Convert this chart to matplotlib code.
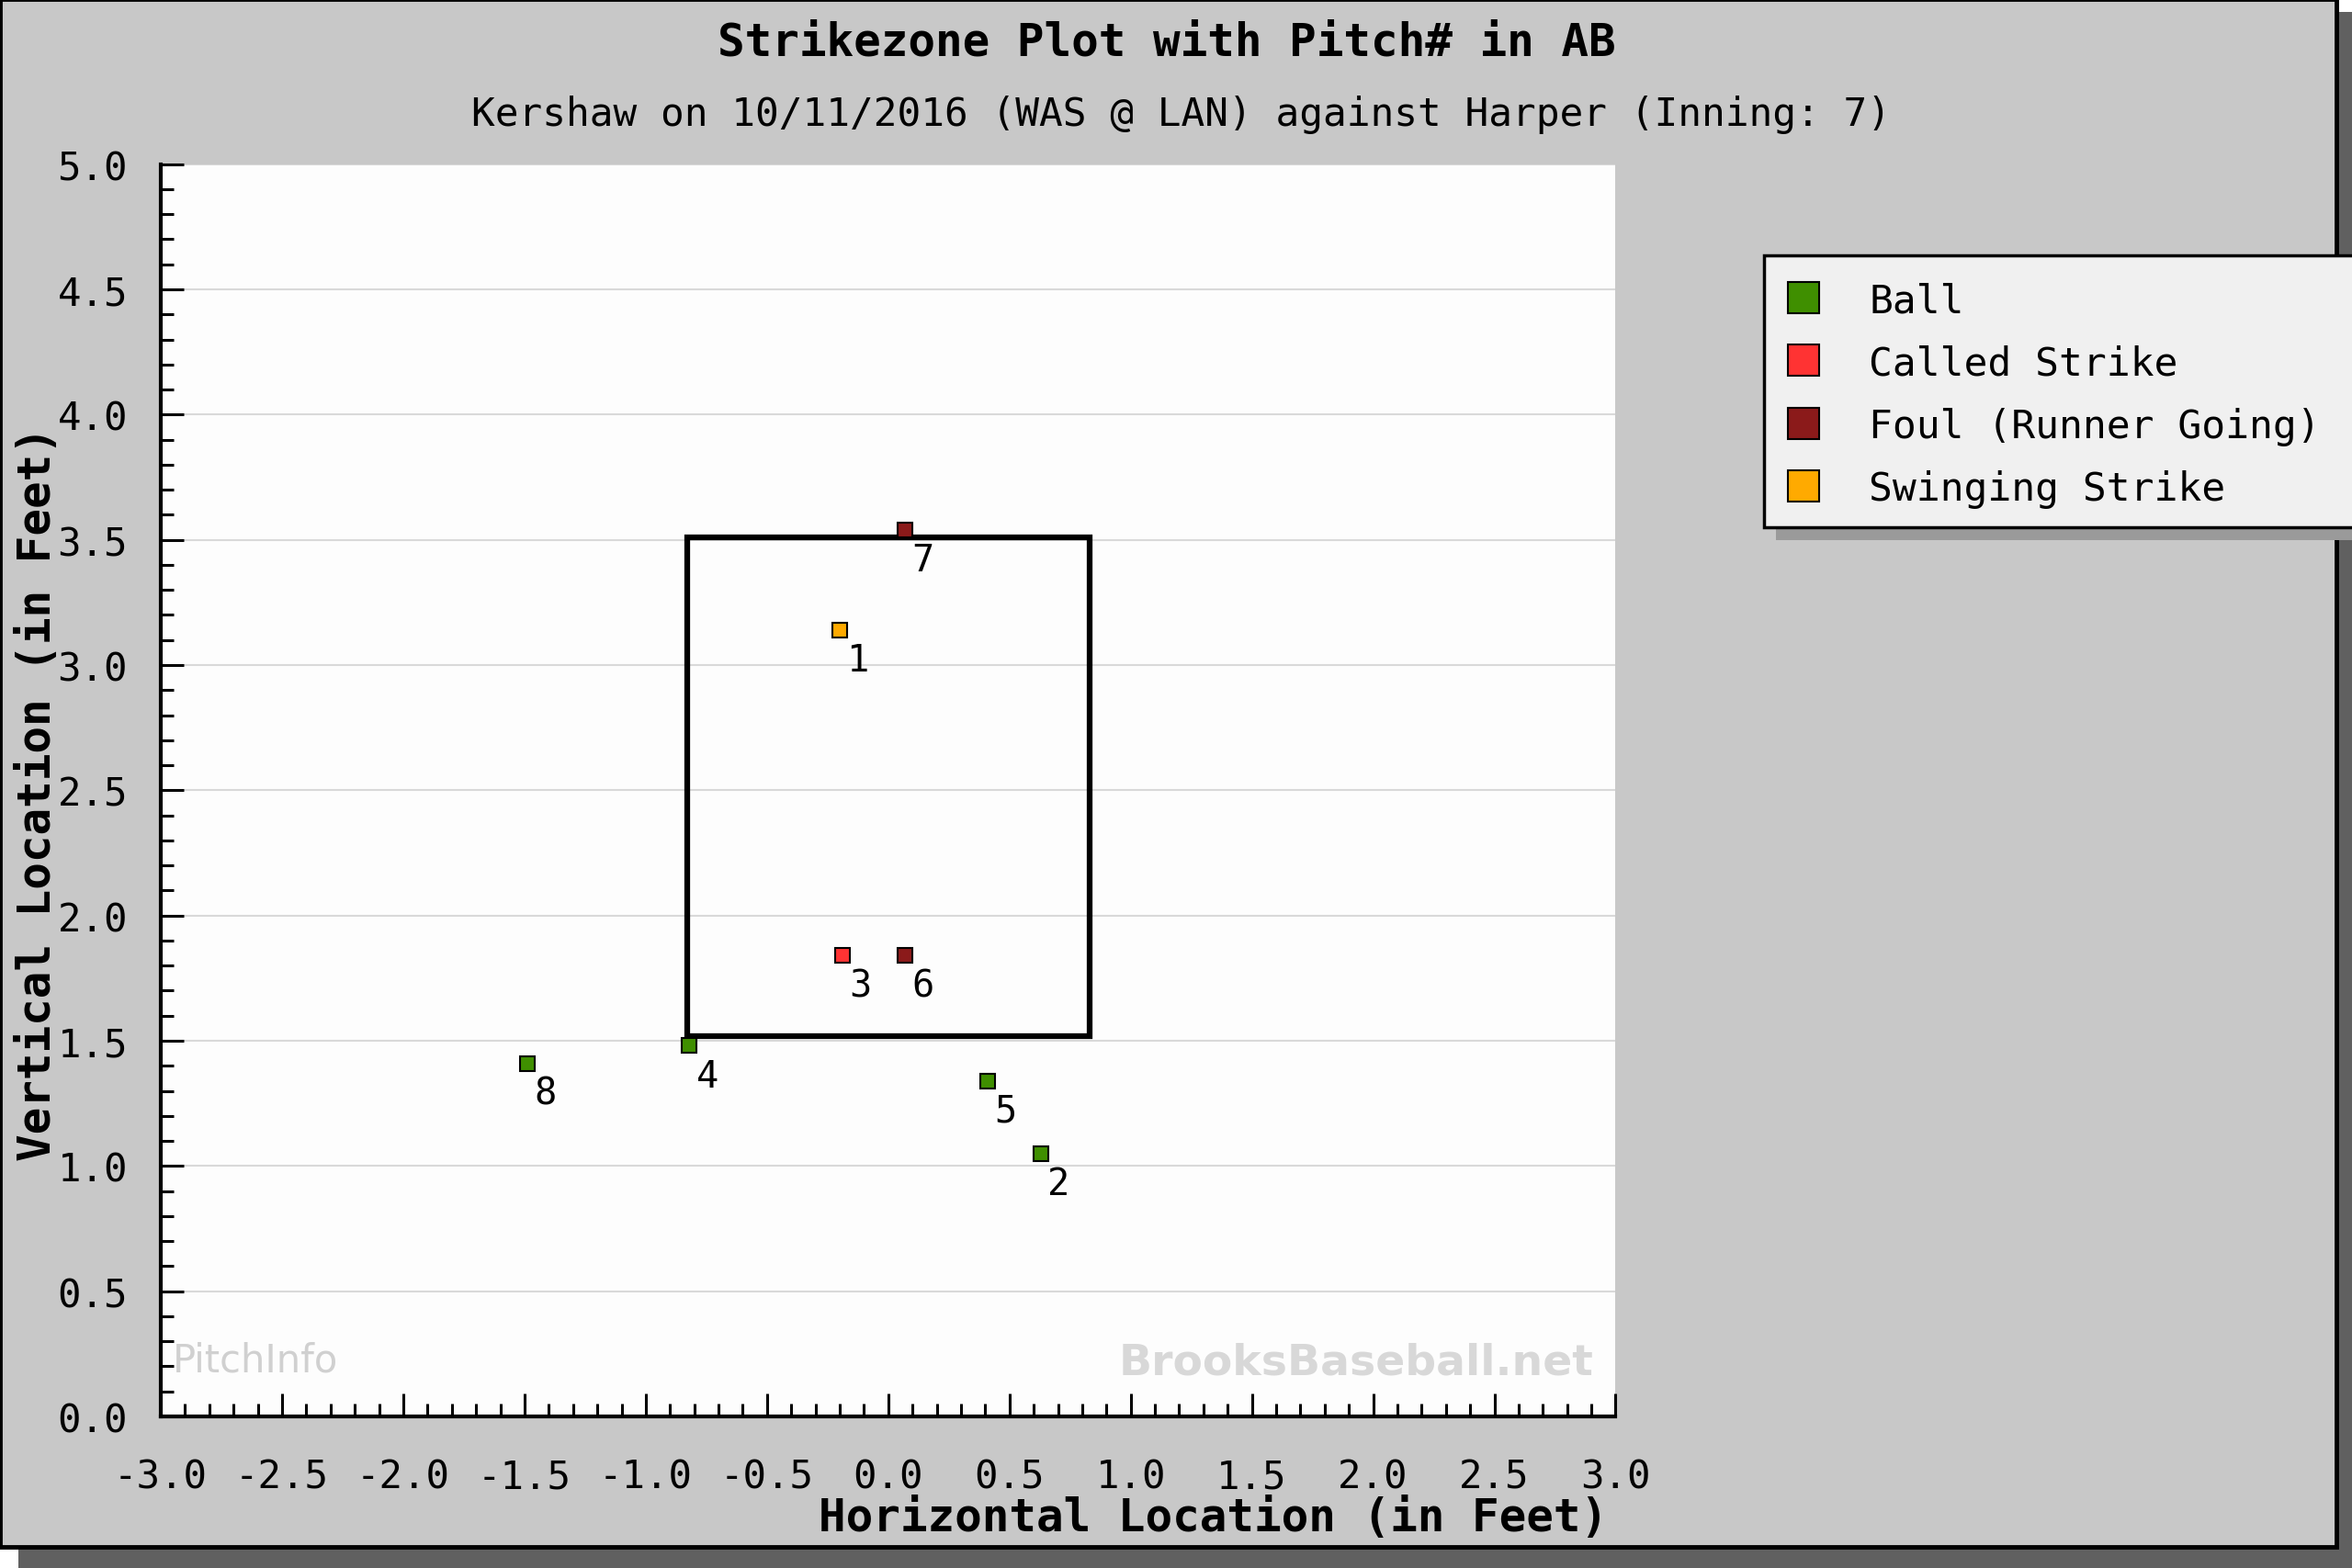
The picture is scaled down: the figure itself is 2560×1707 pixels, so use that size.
import matplotlib
matplotlib.use("Agg")
from matplotlib import pyplot as plt
from matplotlib.patches import Rectangle
from matplotlib.ticker import MultipleLocator, FormatStrFormatter

# pitch data
pitch_num = [1, 2, 3, 4, 5, 6, 7, 8]
px = [-0.20, 0.63, -0.19, -0.82, 0.41, 0.07, 0.07, -1.49]
pz = [3.14, 1.05, 1.84, 1.48, 1.34, 1.84, 3.54, 1.41]
result = ['Swinging Strike', 'Ball', 'Called Strike', 'Ball', 'Ball',
          'Foul (Runner Going)', 'Foul (Runner Going)', 'Ball']

categories = ['Ball', 'Called Strike', 'Foul (Runner Going)', 'Swinging Strike']
cat_colors = ['#3f8f00', '#ff3333', '#8b1a1a', '#ffaa00']

# strike zone edges (feet)
sz_left, sz_right = -0.83, 0.83
sz_bot, sz_top = 1.52, 3.51

title = 'Strikezone Plot with Pitch# in AB'
subtitle = 'Kershaw on 10/11/2016 (WAS @ LAN) against Harper (Inning: 7)'

plt.rcParams['font.family'] = ['DejaVu Sans Mono']
plt.rcParams['axes.unicode_minus'] = False

fig = plt.figure(figsize=(25.6, 17.08), dpi=100, facecolor='white')

# panel with drop shadow
fig.add_artist(Rectangle((0.008, 0.0), 0.992, 0.992, transform=fig.transFigure,
                         facecolor='#606060', edgecolor='none', zorder=-20))
fig.add_artist(Rectangle((0.0, 0.0135), 0.9935, 0.9865, transform=fig.transFigure,
                         facecolor='#c8c8c8', edgecolor='black', linewidth=3.5, zorder=-19))

ax = fig.add_axes([0.0684, 0.0966, 0.6185, 0.7982])
ax.set_facecolor('#fdfdfd')
ax.set_xlim(-3, 3)
ax.set_ylim(0, 5)

for s in ['top', 'right']:
    ax.spines[s].set_visible(False)
for s in ['left', 'bottom']:
    ax.spines[s].set_linewidth(3)

ax.xaxis.set_major_locator(MultipleLocator(0.5))
ax.xaxis.set_minor_locator(MultipleLocator(0.1))
ax.yaxis.set_major_locator(MultipleLocator(0.5))
ax.yaxis.set_minor_locator(MultipleLocator(0.1))
ax.xaxis.set_major_formatter(FormatStrFormatter('%.1f'))
ax.yaxis.set_major_formatter(FormatStrFormatter('%.1f'))
ax.tick_params(which='both', direction='in', width=2.2, labelsize=30.5)
ax.tick_params(which='major', length=18)
ax.tick_params(which='minor', length=10)
ax.tick_params(axis='x', pad=32)
ax.tick_params(axis='y', pad=26)
ax.grid(axis='y', which='major', color='#d9d9d9', linewidth=1.5)
ax.set_axisbelow(True)

# strike zone
ax.add_patch(Rectangle((sz_left, sz_bot), sz_right - sz_left, sz_top - sz_bot,
                       fill=False, edgecolor='black', linewidth=4.5, zorder=3))

for cat, col in zip(categories, cat_colors):
    xs = [x for x, r in zip(px, result) if r == cat]
    ys = [y for y, r in zip(pz, result) if r == cat]
    ax.plot(xs, ys, 's', ms=11, mfc=col, mec='black', mew=1.5,
            linestyle='none', label=cat, zorder=4)

for n, x, y in zip(pitch_num, px, pz):
    ax.annotate(str(n), (x, y), xytext=(14, -24), textcoords='offset points',
                ha='center', va='center', fontsize=29, zorder=5)

# watermarks
ax.text(0.008, 0.045, 'PitchInfo', transform=ax.transAxes, fontsize=30,
        color='#d0d0d0', family='DejaVu Sans', va='center', ha='left')
ax.text(0.985, 0.043, 'BrooksBaseball.net', transform=ax.transAxes, fontsize=34,
        color='#d8d8d8', family='DejaVu Sans', weight='bold', va='center', ha='right')

fig.text(0.496, 0.973, title, ha='center', va='center', fontsize=35.5, weight='bold')
fig.text(0.502, 0.927, subtitle, ha='center', va='center', fontsize=30.8)
fig.text(0.6837, 0.032, 'Horizontal Location (in Feet)', ha='right', va='center',
         fontsize=35.5, weight='bold')
fig.text(0.016, 0.494, 'Vertical Location (in Feet)', ha='center', va='center',
         rotation=90, fontsize=35.5, weight='bold')

# legend box with shadow
fig.add_artist(Rectangle((0.755, 0.655), 0.26, 0.173, transform=fig.transFigure,
                         facecolor='#9a9a9a', edgecolor='none', zorder=1))
fig.add_artist(Rectangle((0.750, 0.6635), 0.26, 0.173, transform=fig.transFigure,
                         facecolor='#f0f0f0', edgecolor='black', linewidth=2.5, zorder=2))
handles, labels = ax.get_legend_handles_labels()
leg = fig.legend(handles, labels, loc='upper left', bbox_to_anchor=(0.7515, 0.8303),
                 frameon=False, fontsize=31, markerscale=2.2, handlelength=1.0,
                 handletextpad=1.17, labelspacing=0.61, borderpad=0.4,
                 borderaxespad=0)
leg.set_zorder(5)

fig.savefig('out.png', dpi=100, facecolor=fig.get_facecolor())
